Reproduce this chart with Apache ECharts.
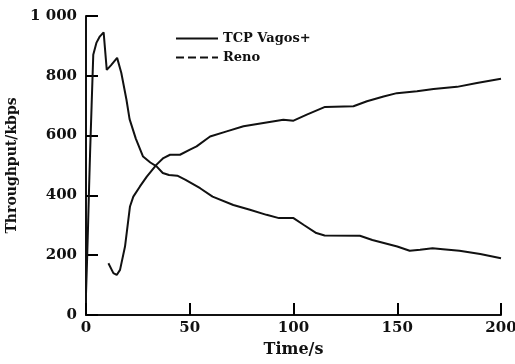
<!DOCTYPE html>
<html>
<head>
<meta charset="utf-8">
<script src="https://cdn.jsdelivr.net/npm/echarts@6/dist/echarts.min.js"></script>
<style>html,body{margin:0;padding:0;background:#fff;}#c{width:515px;height:364px;}</style>
</head>
<body>
<div id="c"></div>
<script>
var xTicks = [0, 50, 100, 150, 200];
var yTicks = [0, 200, 400, 600, 800, 1000];
var vegasTime = [0, 0.5, 1, 1.5, 2, 2.7, 3.5, 5, 6.5, 8.5, 10, 12, 15, 17, 19.5, 21, 24, 27.5, 31, 34, 37, 40, 44, 48, 55, 61, 71, 79, 87, 93, 100, 105, 111, 115, 132, 138, 150, 156, 161, 167, 172, 180, 190, 200];
var vegasVal  = [70, 180, 300, 430, 550, 700, 870, 910, 930, 945, 820, 835, 860, 810, 720, 655, 590, 530, 510, 497, 475, 468, 466, 452, 424, 396, 368, 352, 335, 324, 324, 301, 274, 266, 265, 251, 229, 215, 218, 223, 220, 215, 204, 190];
var renoTime = [10.8, 13.2, 14.8, 16.4, 18.8, 21.2, 22.8, 26, 29.3, 34, 37.3, 40.5, 45.3, 50.1, 53.3, 59.8, 67.8, 75.9, 85.5, 95.1, 100, 106.4, 115.2, 128.9, 135.4, 143.4, 149.8, 159.5, 167.5, 178.8, 188.4, 200];
var renoVal  = [173, 140, 134, 151, 229, 363, 396, 430, 463, 503, 525, 536, 536, 553, 564, 597, 614, 631, 642, 653, 650, 670, 696, 698, 715, 731, 742, 748, 756, 763, 776, 790];
var seriesNames = ['TCP Vagos+', 'Reno'];

function zip(a, b) { return a.map(function (t, i) { return [t, b[i]]; }); }

var font = 'DejaVu Serif';
var chart = echarts.init(document.getElementById('c'), null, {renderer: 'canvas'});
chart.setOption({
  animation: false,
  backgroundColor: '#fff',
  grid: {left: 86, right: 14, top: 16, bottom: 49, containLabel: false, outerBoundsMode: 'none'},
  legend: {
    show: true,
    orient: 'vertical', left: 170, top: 27, itemWidth: 42, itemHeight: 10, itemGap: 6,
    textStyle: {fontFamily: font, fontWeight: 'bold', fontSize: 13, color: '#111'},
    data: [
      {name: seriesNames[0], itemStyle: {opacity: 0}, lineStyle: {type: 'solid', width: 2, color: '#111'}},
      {name: seriesNames[1], itemStyle: {opacity: 0}, lineStyle: {type: [8, 4], width: 2, color: '#111'}}
    ]
  },
  xAxis: {
    type: 'value', min: xTicks[0], max: xTicks[xTicks.length - 1], interval: 50,
    name: 'Time/s', nameLocation: 'middle', nameGap: 27,
    nameTextStyle: {fontFamily: font, fontWeight: 'bold', fontSize: 16, color: '#111'},
    axisLine: {lineStyle: {color: '#111', width: 2}},
    axisTick: {show: true, inside: true, length: 12, lineStyle: {color: '#000', width: 2}},
    axisLabel: {fontFamily: font, fontWeight: 'bold', fontSize: 15, color: '#111', margin: 6},
    splitLine: {show: false}
  },
  yAxis: {
    type: 'value', min: yTicks[0], max: yTicks[yTicks.length - 1], interval: 200,
    name: 'Throughput/kbps', nameLocation: 'middle', nameGap: 64,
    nameTextStyle: {fontFamily: font, fontWeight: 'bold', fontSize: 14, color: '#111'},
    axisLine: {show: true, lineStyle: {color: '#111', width: 2}},
    axisTick: {show: true, inside: true, length: 12, lineStyle: {color: '#000', width: 2}},
    axisLabel: {fontFamily: font, fontWeight: 'bold', fontSize: 15, color: '#111', margin: 9,
      formatter: function (v) { return v >= 1000 ? '1 000' : String(v); }},
    splitLine: {show: false}
  },
  series: [
    {name: seriesNames[0], type: 'line', showSymbol: false, symbol: 'none', data: zip(vegasTime, vegasVal),
      lineStyle: {color: '#111', width: 2}, itemStyle: {color: '#111'}},
    {name: seriesNames[1], type: 'line', showSymbol: false, symbol: 'none', data: zip(renoTime, renoVal),
      lineStyle: {color: '#111', width: 2}, itemStyle: {color: '#111'}}
  ]
});
</script>
</body>
</html>
